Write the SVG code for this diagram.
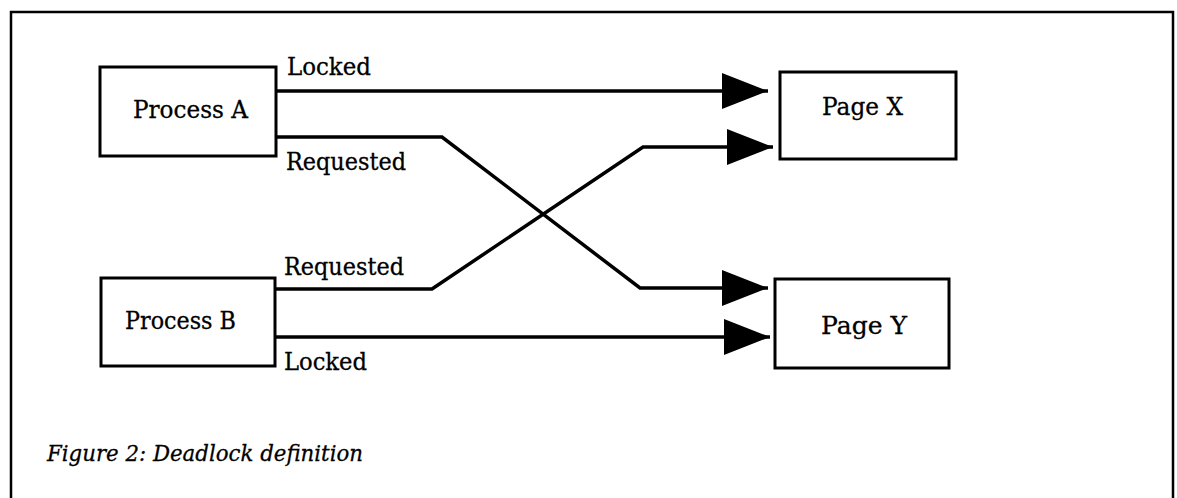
<svg xmlns="http://www.w3.org/2000/svg" width="1177" height="498" viewBox="0 0 1177 498">
<style>
.box{fill:#fff;stroke:#000;stroke-width:3}
.lbl{font-family:"DejaVu Serif","Liberation Serif",serif;font-size:24px;fill:#000;stroke:#000;stroke-width:0.3}
.conn{fill:none;stroke:#000;stroke-width:3.5;stroke-linejoin:miter}
.cap{font-family:"DejaVu Serif","Liberation Serif",serif;font-style:italic;font-size:23px;fill:#000;stroke:#000;stroke-width:0.3}
</style>
<defs>
<marker id="arr" markerUnits="userSpaceOnUse" markerWidth="48" markerHeight="38" refX="46" refY="18" orient="auto">
<polygon points="0,0 46,18 0,36" fill="#000"/>
</marker>
</defs>
<rect width="1177" height="498" fill="#fff"/>
<path d="M11,498 V12 H1173 V498" fill="none" stroke="#000" stroke-width="2.5"/>
<g id="processA">
<rect class="box" x="100" y="67" width="176" height="89"/>
<text class="lbl" x="133" y="118" textLength="115" lengthAdjust="spacingAndGlyphs">Process A</text>
</g>
<g id="processB">
<rect class="box" x="101" y="278" width="174" height="88"/>
<text class="lbl" x="125" y="329" textLength="111" lengthAdjust="spacingAndGlyphs">Process B</text>
</g>
<g id="pageX">
<rect class="box" x="780" y="72" width="176" height="87"/>
<text class="lbl" x="822" y="115" textLength="81" lengthAdjust="spacingAndGlyphs">Page X</text>
</g>
<g id="pageY">
<rect class="box" x="775" y="279" width="174" height="89"/>
<text class="lbl" x="821" y="334" textLength="86" lengthAdjust="spacingAndGlyphs">Page Y</text>
</g>
<g id="connectors">
<path class="conn" d="M276,91 H768" marker-end="url(#arr)"/>
<path class="conn" d="M276,137 H442 L640,288 H768" marker-end="url(#arr)"/>
<path class="conn" d="M275,289 H432 L643,147 H773" marker-end="url(#arr)"/>
<path class="conn" d="M275,337 H770" marker-end="url(#arr)"/>
<text class="lbl" x="287" y="75" textLength="84" lengthAdjust="spacingAndGlyphs">Locked</text>
<text class="lbl" x="286" y="170" textLength="120" lengthAdjust="spacingAndGlyphs">Requested</text>
<text class="lbl" x="284" y="275" textLength="120" lengthAdjust="spacingAndGlyphs">Requested</text>
<text class="lbl" x="284" y="370" textLength="83" lengthAdjust="spacingAndGlyphs">Locked</text>
</g>
<text class="cap" x="47" y="461" textLength="316" lengthAdjust="spacingAndGlyphs">Figure 2: Deadlock definition</text>
</svg>
